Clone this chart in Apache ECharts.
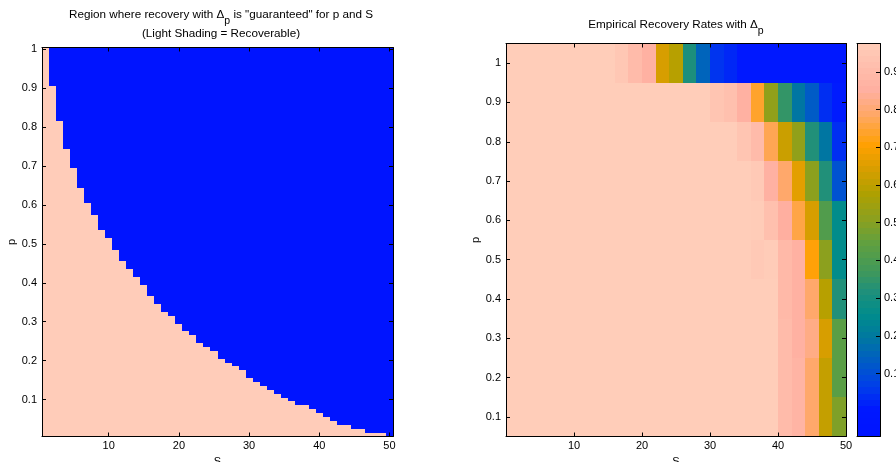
<!DOCTYPE html>
<html><head><meta charset="utf-8">
<script src="https://cdn.jsdelivr.net/npm/echarts@6/dist/echarts.min.js"></script>
<style>html,body{margin:0;padding:0;background:#fff}#c{width:896px;height:462px}</style>
</head><body><div id="c"></div>
<script>
// ---------- data ----------
// Left panel: for each sparsity S, the largest p (grid step 0.01) that is "guaranteed" recoverable
const sLeft = [1,2,3,4,5,6,7,8,9,10,11,12,13,14,15,16,17,18,19,20,21,22,23,24,25,26,27,28,29,30,31,32,33,34,35,36,37,38,39,40,41,42,43,44,45,46,47,48,49,50];
const pMaxLeft = [1.00,0.90,0.81,0.74,0.69,0.64,0.60,0.57,0.53,0.51,0.48,0.45,0.43,0.41,0.39,0.36,0.34,0.32,0.31,0.29,0.27,0.26,0.24,0.23,0.22,0.20,0.19,0.18,0.17,0.15,0.14,0.13,0.12,0.11,0.10,0.09,0.08,0.08,0.07,0.06,0.05,0.04,0.03,0.03,0.02,0.02,0.01,0.01,0.01,0.00];

// Right panel: empirical recovery rates, S columns x p rows
const sRight = [2,4,6,8,10,12,14,16,18,20,22,24,26,28,30,32,34,36,38,40,42,44,46,48,50];
const pRight = [0.1,0.2,0.3,0.4,0.5,0.6,0.7,0.8,0.9,1.0];
const rateP01 = [1,1,1,1,1,1,1,1,1,1,1,1,1,1,1,1,1,1,1,1,0.90,0.87,0.79,0.61,0.49];
const rateP02 = [1,1,1,1,1,1,1,1,1,1,1,1,1,1,1,1,1,1,1,1,0.90,0.87,0.79,0.61,0.43];
const rateP03 = [1,1,1,1,1,1,1,1,1,1,1,1,1,1,1,1,1,1,1,1,0.90,0.86,0.82,0.64,0.43];
const rateP04 = [1,1,1,1,1,1,1,1,1,1,1,1,1,1,1,1,1,1,1,1,0.89,0.86,0.79,0.59,0.32];
const rateP05 = [1,1,1,1,1,1,1,1,1,1,1,1,1,1,1,1,1,1,0.96,0.97,0.89,0.86,0.71,0.51,0.26];
const rateP06 = [1,1,1,1,1,1,1,1,1,1,1,1,1,1,1,1,1,1,0.97,0.92,0.85,0.76,0.64,0.41,0.26];
const rateP07 = [1,1,1,1,1,1,1,1,1,1,1,1,1,1,1,1,1,1,0.96,0.86,0.79,0.66,0.51,0.32,0.11];
const rateP08 = [1,1,1,1,1,1,1,1,1,1,1,1,1,1,1,1,1,0.94,0.90,0.77,0.62,0.52,0.32,0.19,0.04];
const rateP09 = [1,1,1,1,1,1,1,1,1,1,1,1,1,1,1,0.94,0.92,0.86,0.74,0.52,0.35,0.19,0.13,0.04,0.01];
const rateP10 = [1,1,1,1,1,1,1,1,0.95,0.90,0.86,0.64,0.59,0.31,0.15,0.05,0.03,0,0,0,0,0,0,0,0];
const rateRows = [rateP01,rateP02,rateP03,rateP04,rateP05,rateP06,rateP07,rateP08,rateP09,rateP10];

// tick labels
const xTicks = [10,20,30,40,50];
const yTicks = [0.1,0.2,0.3,0.4,0.5,0.6,0.7,0.8,0.9,1];
const cbTicks = [0.1,0.2,0.3,0.4,0.5,0.6,0.7,0.8,0.9];

// colour scale (colorbar limits and colormap stops)
const cbMin = -0.067, cbMax = 0.975;
const cmapStops  = [-0.067,0.006,0.068,0.141,0.194,0.256,0.318,0.371,0.444,0.506,0.579,0.642,0.704,0.787,0.85,0.975];
const cmapColors = ['#0014ff','#0018ff','#0040e8','#0060c0','#0078a0','#008c8c','#20907a','#40985a','#60a040','#8aa020','#b0a000','#d89e00','#ffa000','#ffa868','#ffafa0','#ffcdb9'];
const PINK = '#ffccb9', BLUE = '#0014ff';

// ---------- helpers ----------
const FONT = '"Liberation Sans", Arial, Helvetica, sans-serif';
function hexRgb(h){ return [parseInt(h.substr(1,2),16),parseInt(h.substr(3,2),16),parseInt(h.substr(5,2),16)]; }
const cmapRgb = cmapColors.map(hexRgb);
function cmap(v){
  if (v <= cmapStops[0]) return cmapColors[0];
  const n = cmapStops.length;
  if (v >= cmapStops[n-1]) return cmapColors[n-1];
  let i = 0; while (v > cmapStops[i+1]) i++;
  const t = (v - cmapStops[i]) / (cmapStops[i+1] - cmapStops[i]);
  const a = cmapRgb[i], b = cmapRgb[i+1];
  return 'rgb(' + [0,1,2].map(k => Math.round(a[k] + (b[k]-a[k])*t)).join(',') + ')';
}
function rectRenderer(colorFn){
  return function(params, api){
    const a = api.coord([api.value(0), api.value(3)]);
    const b = api.coord([api.value(1), api.value(2)]);
    const x = Math.round(a[0]), y = Math.round(a[1]);
    return {type:'rect', shape:{x:x, y:y, width:Math.round(b[0])-x, height:Math.round(b[1])-y},
            style:{fill: colorFn(api.value(4))}};
  };
}
const fmt = v => String(Math.round(v*100)/100);
function axis(o){
  return {
    type:'value', gridIndex:o.grid, position:o.pos, min:o.min, max:o.max, z:10,
    axisLine:{show:true, onZero:false, lineStyle:{color:'#000', width:1}},
    axisTick:{show:!!o.ticks, inside:true, length:4, customValues:o.ticks || [], lineStyle:{color:'#000', width:1}},
    axisLabel:{show:!!o.labels, customValues:o.ticks || [], margin:o.margin || 4, color:'#000', fontSize:11, fontFamily:FONT, formatter:fmt},
    splitLine:{show:false},
    name:o.name || '', nameLocation:'middle', nameGap:o.nameGap || 0,
    nameTextStyle:{color:'#000', fontSize:11, fontFamily:FONT}
  };
}

// ---------- build series data ----------
const leftYMin = 0.005, leftYMax = 1.005;
const leftData = [];
sLeft.forEach((s, i) => {
  const top = pMaxLeft[i] + 0.005;
  if (pMaxLeft[i] > 0) leftData.push([s-0.5, s+0.5, leftYMin, top, 1]);
  if (top < leftYMax) leftData.push([s-0.5, s+0.5, top, leftYMax, 0]);
});
const heatData = [];
pRight.forEach((p, r) => rateRows[r].forEach((v, j) => heatData.push([sRight[j]-2, sRight[j], p-0.05, p+0.05, v])));
const cbData = [];
const NB = 64;
for (let k = 0; k < NB; k++) {
  const lo = cbMin + k*(cbMax-cbMin)/NB, hi = cbMin + (k+1)*(cbMax-cbMin)/NB;
  cbData.push([0, 1, lo, hi, (lo+hi)/2]);
}

// ---------- chart ----------
const chart = echarts.init(document.getElementById('c'), null, {renderer:'canvas'});
const titleRich = {
  t:{fontSize:11.7, fontFamily:FONT, color:'#000', lineHeight:19},
  s:{fontSize:10.5, fontFamily:FONT, color:'#000', lineHeight:6, padding:[12,0,0,0]}
};
chart.setOption({
  animation:false,
  backgroundColor:'#fff',
  title:[
    {left:221, top:5.5, textAlign:'center', padding:0,
     text:'{t|Region where recovery with Δ}{s|p}{t| is "guaranteed" for p and S}\n{t|(Light Shading = Recoverable)}',
     textStyle:{rich:titleRich, fontSize:11.7, fontFamily:FONT, lineHeight:19, fontWeight:'normal'}},
    {left:676, top:15.5, textAlign:'center', padding:0,
     text:'{t|Empirical Recovery Rates with Δ}{s|p}',
     textStyle:{rich:titleRich, fontSize:11.7, fontFamily:FONT, lineHeight:19, fontWeight:'normal'}}
  ],
  grid:[
    {left:42, top:47.5, width:351, height:389, outerBoundsMode:'none', containLabel:false},
    {left:506, top:43.5, width:340, height:393, outerBoundsMode:'none', containLabel:false},
    {left:857, top:43.5, width:23, height:393, outerBoundsMode:'none', containLabel:false}
  ],
  xAxis:[
    axis({grid:0, pos:'bottom', min:0.5, max:50.5, ticks:xTicks, labels:true, name:'S', nameGap:16}),
    axis({grid:0, pos:'top', min:0.5, max:50.5, ticks:xTicks}),
    axis({grid:1, pos:'bottom', min:0, max:50, ticks:xTicks, labels:true, name:'S', nameGap:16}),
    axis({grid:1, pos:'top', min:0, max:50, ticks:xTicks}),
    axis({grid:2, pos:'bottom', min:0, max:1}),
    axis({grid:2, pos:'top', min:0, max:1})
  ],
  yAxis:[
    axis({grid:0, pos:'left', min:leftYMin, max:leftYMax, ticks:yTicks, labels:true, name:'p', nameGap:25, margin:5}),
    axis({grid:0, pos:'right', min:leftYMin, max:leftYMax, ticks:yTicks}),
    axis({grid:1, pos:'left', min:0.05, max:1.05, ticks:yTicks, labels:true, name:'p', nameGap:17, margin:5}),
    axis({grid:1, pos:'right', min:0.05, max:1.05, ticks:yTicks}),
    axis({grid:2, pos:'left', min:cbMin, max:cbMax}),
    axis({grid:2, pos:'right', min:cbMin, max:cbMax, ticks:cbTicks, labels:true, margin:4})
  ],
  series:[
    {type:'custom', xAxisIndex:0, yAxisIndex:0, clip:true, data:leftData,
     dimensions:['x0','x1','y0','y1','v'], encode:{x:[0,1], y:[2,3]},
     renderItem:rectRenderer(v => v ? PINK : BLUE)},
    {type:'custom', xAxisIndex:2, yAxisIndex:2, clip:true, data:heatData,
     dimensions:['x0','x1','y0','y1','v'], encode:{x:[0,1], y:[2,3]},
     renderItem:rectRenderer(cmap)},
    {type:'custom', xAxisIndex:4, yAxisIndex:4, clip:true, data:cbData,
     dimensions:['x0','x1','y0','y1','v'], encode:{x:[0,1], y:[2,3]},
     renderItem:rectRenderer(cmap)}
  ]
});
</script></body></html>
